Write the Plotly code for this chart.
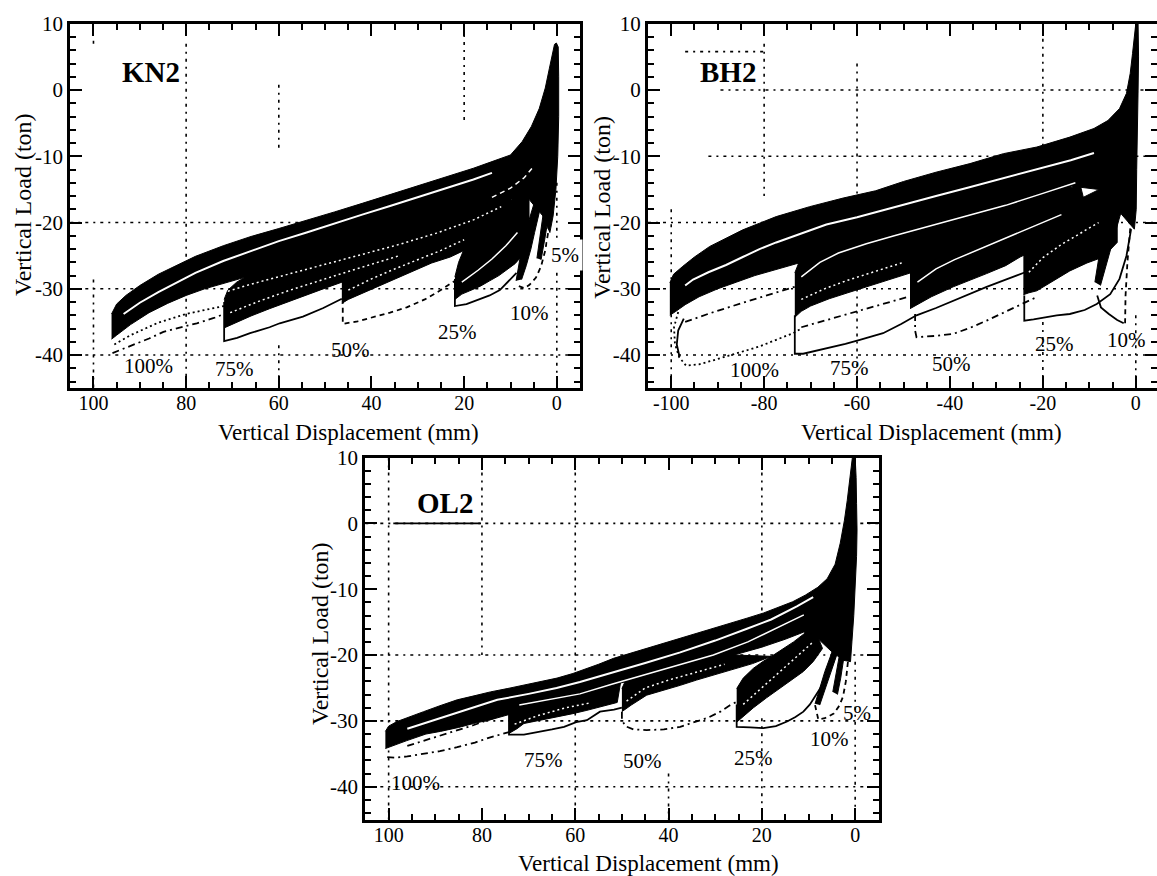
import plotly.graph_objects as go

FONT = "Liberation Serif"
W, H = 1157, 876

# ===================== KN2 (top-left) =====================
KN2_G100_TOP = [(96.1,-33.8),(95.0,-32.3),(93.0,-31.0),(90.0,-29.5),(86.0,-27.8),(82.0,-26.4),(78.0,-25.1),(72.0,-23.5),(66.0,-22.1),(60.0,-20.9),(54.0,-19.7),(48.0,-18.4),(42.0,-17.1),(36.0,-15.8),(30.0,-14.5),(24.0,-13.2),(18.0,-11.8),(14.0,-10.8),(10.0,-9.8),(7.5,-7.8),(5.5,-5.5),(3.8,-2.8),(2.5,0.3),(1.6,3.3),(1.0,5.5),(0.5,6.9),(0.1,7.1)]
KN2_G100_EDGE = [(-0.3,6.5),(-0.4,2.0),(-0.4,-4.0),(-0.2,-10.0),(0.2,-15.0),(0.8,-19.0),(1.5,-21.5)]
KN2_G100_BOT = [(96.1,-37.6),(95.0,-37.0),(92.0,-35.4),(88.0,-33.6),(84.0,-32.2),(80.0,-31.0),(76.0,-30.0),(72.0,-29.2),(66.0,-28.0),(60.0,-26.9),(54.0,-25.8),(48.0,-24.6),(40.0,-23.0),(32.0,-21.5),(24.0,-19.8),(16.0,-17.8),(10.0,-16.5),(6.0,-16.5),(3.0,-19.0),(1.5,-21.5)]
KN2_G75_TOP = [(71.8,-31.6),(71.0,-30.2),(69.1,-29.0),(66.0,-27.7),(62.0,-26.4),(58.0,-25.3),(54.0,-24.3),(48.0,-23.0),(40.0,-21.5),(30.0,-19.5),(20.0,-17.5),(10.0,-15.5)]
KN2_G75_BOT = [(71.8,-35.9),(70.0,-35.3),(66.0,-34.1),(62.0,-33.0),(58.0,-31.9),(54.0,-30.9),(50.0,-29.9),(44.0,-28.4),(38.0,-27.2),(32.0,-25.9),(26.0,-24.5),(20.0,-22.8),(14.0,-20.8),(10.0,-19.0)]
KN2_G50_TOP = [(46.4,-28.7),(45.5,-27.3),(43.2,-26.0),(40.0,-25.0),(36.0,-24.1),(30.0,-22.6),(25.0,-21.4),(20.0,-20.2),(14.0,-18.6),(10.0,-17.2)]
KN2_G50_BOT = [(46.4,-32.2),(45.0,-31.6),(42.0,-30.6),(39.0,-29.7),(35.0,-28.5),(31.0,-27.3),(27.0,-26.1),(23.0,-25.2),(20.0,-24.2),(16.0,-23.0),(12.0,-21.5),(10.0,-20.3)]
KN2_G25_TOP = [(22.0,-28.2),(21.2,-26.0),(20.2,-24.3),(18.8,-22.6),(17.4,-21.3),(15.5,-20.0),(13.0,-18.6),(10.9,-17.4),(8.0,-15.5),(6.0,-14.0)]
KN2_G25_BOT = [(22.0,-31.6),(20.5,-30.8),(18.8,-30.3),(16.5,-29.6),(14.5,-28.8),(12.5,-28.0),(10.9,-27.2),(9.0,-26.2),(7.5,-25.0),(6.0,-23.5)]
KN2_G10 = [(8.8,-28.8),(8.2,-26.5),(7.6,-24.0),(6.6,-21.0),(5.3,-18.0),(4.0,-15.0),(2.6,-15.5),(3.8,-18.5),(4.8,-21.5),(5.6,-24.0),(6.6,-26.5),(7.6,-28.6)]
KN2_G5 = [(4.3,-25.4),(3.7,-22.5),(3.0,-19.0),(2.3,-15.5),(1.3,-16.0),(1.9,-19.5),(2.6,-22.5),(3.4,-25.6)]

KN2_L100A = [(95.9,-39.7),(94.0,-39.2),(92.1,-38.7),(88.0,-37.5),(84.9,-36.5),(80.0,-35.6),(77.7,-35.2),(74.0,-34.4),(71.8,-33.8)]
KN2_L100B = [(95.5,-38.4),(92.0,-37.0),(86.0,-35.1),(80.0,-33.8),(74.0,-32.9),(71.8,-32.6)]
KN2_L75 = [(71.8,-32.0),(71.8,-37.9),(69.0,-37.4),(66.2,-36.7),(62.0,-35.8),(59.8,-35.2),(54.8,-34.2),(50.4,-32.9),(46.4,-31.5)]
KN2_L50 = [(46.2,-31.5),(46.2,-35.3),(43.0,-34.9),(39.6,-34.3),(36.0,-33.6),(32.4,-32.8),(28.5,-31.6),(25.3,-30.3),(21.8,-28.7)]
KN2_L25 = [(22.0,-28.5),(22.0,-32.6),(19.5,-32.3),(17.4,-31.8),(14.5,-31.0),(12.3,-30.2),(10.2,-28.7),(8.7,-27.6)]
KN2_L10 = [(8.2,-29.6),(7.0,-29.9),(5.9,-29.4),(4.5,-28.3),(3.4,-26.6),(2.5,-24.2),(1.9,-21.6),(1.5,-19.0),(1.2,-16.6)]

KN2_W1 = [(93.5,-33.8),(90.0,-32.1),(86.0,-30.5),(82.0,-29.0),(78.0,-27.6),(72.0,-25.8),(66.0,-24.3),(60.0,-22.8),(54.0,-21.5),(48.0,-20.1),(42.0,-18.8),(36.0,-17.5),(30.0,-16.2),(24.0,-14.9),(18.0,-13.5),(14.0,-12.5)]
KN2_W2 = [(92.0,-36.2),(86.0,-34.1),(80.0,-32.4),(74.0,-31.0),(66.0,-29.3),(58.0,-27.8),(50.0,-26.3),(42.0,-24.8),(34.0,-23.3),(26.0,-21.6),(18.0,-19.6),(12.0,-17.6)]
KN2_W3 = [(70.5,-33.6),(64.0,-31.8),(58.0,-30.3),(52.0,-28.9),(46.0,-27.6),(40.0,-26.3),(34.0,-25.0)]
KN2_W4 = [(45.0,-30.2),(40.0,-28.5),(35.0,-27.0),(30.0,-25.6),(25.0,-24.2),(20.0,-22.6)]
KN2_W5 = [(20.5,-29.0),(17.0,-27.2),(14.0,-25.5),(11.0,-23.5),(8.5,-21.5)]
KN2_W6 = [(14.0,-16.2),(10.0,-14.8),(7.0,-13.2),(5.0,-11.5)]

KN2_PCT_TEXT = ["100%", "75%", "50%", "25%", "10%", "5%"]
KN2_PCT_X = [88.1, 69.6, 44.6, 21.5, 5.9, -1.7]
KN2_PCT_Y = [-41.7, -42.1, -39.3, -36.5, -33.7, -24.9]

KN2_GRID_V = [(100, 7.0, 8.0), (100, -28.6, -45), (80, 7, -45), (60, 0.8, -9.1), (60, -38.5, -45), (20, 9.5, -5), (0, -14, -45)]
KN2_GRID_H = [(-20, 105, 50), (-30, 105, -5), (-40, 105, -5)]

# ===================== BH2 (top-right) =====================
BH2_G100_TOP = [(-100.3,-29.1),(-99.5,-27.8),(-97.5,-26.6),(-95.0,-25.2),(-91.7,-23.6),(-88.0,-22.3),(-84.6,-21.1),(-81.0,-20.1),(-77.4,-19.1),(-70.2,-17.6),(-63.0,-16.3),(-56.0,-15.2),(-50.0,-13.8),(-43.0,-12.4),(-35.7,-11.1),(-28.5,-9.6),(-21.3,-8.6),(-14.2,-7.1),(-9.0,-5.8),(-6.0,-4.6),(-3.5,-2.8),(-2.0,-0.5),(-1.2,2.5),(-0.7,5.5),(-0.3,8.5),(0.0,10.0)]
BH2_G100_EDGE = [(0.5,10.0),(0.6,5.0),(0.5,0.0),(0.3,-6.0),(0.2,-12.0),(0.1,-18.0),(-0.3,-21.0)]
BH2_G100_BOT = [(-100.3,-34.0),(-99.0,-33.4),(-97.0,-32.4),(-94.0,-31.2),(-90.0,-30.0),(-86.0,-29.0),(-82.0,-28.0),(-78.0,-27.1),(-74.0,-26.4),(-68.0,-25.2),(-60.0,-23.6),(-52.0,-22.0),(-44.0,-20.5),(-36.0,-19.0),(-28.0,-17.4),(-20.0,-15.8),(-14.0,-14.5),(-8.0,-15.0),(-4.0,-18.0),(-0.3,-21.0)]
BH2_G75_TOP = [(-73.4,-27.6),(-72.5,-26.0),(-70.5,-24.8),(-67.0,-23.4),(-63.0,-22.3),(-58.0,-21.1),(-52.0,-19.9),(-45.0,-18.6),(-38.0,-17.2),(-30.0,-15.6),(-22.0,-14.0),(-14.0,-12.2)]
BH2_G75_BOT = [(-73.4,-34.3),(-72.0,-33.4),(-70.0,-32.6),(-66.0,-31.5),(-62.0,-30.6),(-58.0,-29.7),(-54.0,-28.8),(-50.0,-27.9),(-44.0,-26.6),(-38.0,-25.3),(-30.0,-23.6),(-22.0,-21.8),(-14.0,-19.8)]
BH2_G50_TOP = [(-48.6,-26.4),(-47.5,-24.5),(-45.5,-23.2),(-42.9,-22.2),(-39.0,-21.1),(-35.7,-20.2),(-32.0,-19.2),(-28.5,-18.2),(-24.0,-17.2),(-18.0,-15.8),(-12.0,-14.2)]
BH2_G50_BOT = [(-48.6,-33.0),(-47.0,-32.4),(-44.0,-31.2),(-39.3,-29.7),(-35.0,-28.5),(-32.1,-27.7),(-28.0,-26.5),(-24.9,-25.2),(-20.0,-23.6),(-15.0,-21.8),(-10.0,-19.8)]
BH2_G25_TOP = [(-24.2,-24.2),(-23.2,-22.3),(-21.3,-20.4),(-18.0,-18.8),(-14.2,-17.2),(-10.5,-15.9),(-7.0,-14.7),(-4.0,-13.2)]
BH2_G25_BOT = [(-24.2,-30.9),(-23.0,-30.6),(-21.3,-30.3),(-17.5,-28.7),(-14.2,-27.3),(-10.5,-26.1),(-7.0,-25.2),(-4.0,-23.0)]
BH2_G10 = [(-8.8,-29.0),(-8.0,-25.5),(-6.8,-22.0),(-5.3,-18.5),(-3.8,-15.5),(-2.2,-16.0),(-3.6,-19.5),(-5.0,-23.0),(-6.4,-26.5),(-7.6,-29.5)]

BH2_L100A = [(-98.5,-33.5),(-99.4,-35.8),(-99.2,-38.3),(-98.3,-40.3),(-96.8,-41.6),(-94.0,-41.4),(-91.0,-40.8),(-88.2,-40.2),(-84.5,-39.4),(-81.0,-38.7),(-77.4,-37.7),(-73.8,-36.7),(-72.0,-36.0)]
BH2_L100B = [(-97.3,-34.5),(-98.5,-36.3),(-98.8,-38.4),(-98.2,-40.3)]
BH2_L100C = [(-97.0,-35.0),(-91.7,-33.7),(-85.0,-32.2),(-79.0,-30.9),(-73.4,-29.7)]
BH2_L75 = [(-73.4,-34.0),(-73.4,-39.8),(-71.6,-39.8),(-68.5,-39.3),(-65.9,-38.9),(-62.5,-38.3),(-59.4,-37.7),(-54.4,-36.7),(-50.5,-35.3),(-47.2,-34.0),(-43.0,-32.9),(-39.3,-31.8),(-35.5,-30.7),(-32.1,-29.7),(-28.0,-28.6),(-23.8,-27.5)]
BH2_L75B = [(-72.0,-35.8),(-66.0,-34.6),(-60.0,-33.4),(-54.4,-32.2),(-49.0,-31.2)]
BH2_L50 = [(-47.5,-33.8),(-47.5,-36.3),(-47.2,-37.3),(-43.0,-37.1),(-39.3,-36.8),(-35.7,-35.9),(-32.1,-34.8),(-28.5,-33.6),(-24.9,-32.4),(-21.5,-31.3)]
BH2_L25 = [(-24.0,-31.0),(-24.0,-34.8),(-22.0,-34.6),(-19.9,-34.3),(-17.0,-34.0),(-14.2,-33.8),(-11.0,-33.2),(-8.4,-32.3),(-5.5,-30.8),(-3.5,-28.5),(-2.0,-25.0),(-1.0,-21.0)]
BH2_L10A = [(-8.3,-31.0),(-7.5,-32.8),(-5.8,-33.8),(-4.0,-34.7),(-2.6,-35.2)]
BH2_L10B = [(-2.3,-35.2),(-2.2,-31.0),(-1.8,-26.0),(-1.2,-21.0),(-0.6,-16.0)]

BH2_W1 = [(-97.0,-29.5),(-95.3,-28.6),(-92.0,-27.5),(-88.2,-26.4),(-84.6,-25.2),(-81.0,-24.0),(-77.4,-23.0),(-73.8,-22.1),(-70.2,-21.2),(-66.6,-20.3),(-60.0,-19.2),(-55.9,-18.4),(-50.0,-17.3),(-43.0,-16.0),(-36.0,-14.7),(-28.5,-13.3),(-21.0,-11.9),(-14.0,-10.6),(-9.0,-9.5)]
BH2_W2 = [(-95.0,-32.3),(-90.0,-31.2),(-84.6,-30.3),(-78.0,-28.9),(-74.5,-28.0)]
BH2_W3 = [(-72.0,-28.2),(-68.0,-26.0),(-64.0,-24.6),(-58.0,-23.2),(-52.0,-22.0),(-44.0,-20.5),(-36.0,-19.0),(-28.0,-17.4),(-20.0,-15.6),(-13.0,-14.0)]
BH2_W4 = [(-72.0,-31.6),(-67.0,-30.0),(-62.0,-28.7),(-56.0,-27.4),(-50.0,-26.0)]
BH2_W5 = [(-47.0,-29.0),(-43.0,-27.0),(-39.0,-25.6),(-34.0,-24.1),(-28.0,-22.4),(-22.0,-20.6),(-16.0,-18.8)]
BH2_W6 = [(-23.0,-27.5),(-20.0,-25.3),(-16.0,-23.3),(-12.0,-21.6),(-8.0,-20.0)]

BH2_PCT_TEXT = ["100%", "75%", "50%", "25%", "10%"]
BH2_PCT_X = [-82.0, -61.7, -39.6, -17.6, -2.1]
BH2_PCT_Y = [-42.2, -42.0, -41.3, -38.3, -37.7]

BH2_GRID_V = [(-100, -18, -45), (-80, 7, -16), (-60, 4, -45), (-20, 10, -9), (-20, -35, -45), (0, -34, -45)]
BH2_GRID_H = [(5.8, -97, -80), (0, -89.4, 5), (-10, -92, 5), (-20, -105, 5), (-30, -105, 5), (-40, -105, 5)]

# ===================== OL2 (bottom) =====================
OL2_G100_TOP = [(100.7,-31.6),(100.0,-30.8),(98.2,-30.1),(95.0,-29.2),(92.5,-28.6),(89.0,-27.7),(85.3,-26.8),(81.7,-26.2),(78.2,-25.6),(74.6,-25.1),(71.0,-24.6),(67.5,-24.1),(63.9,-23.5),(60.5,-22.8),(57.5,-22.1),(55.0,-21.4),(51.8,-20.5),(48.0,-19.7),(44.7,-19.0),(41.0,-18.2),(37.5,-17.5),(34.0,-16.7),(30.4,-15.9),(26.8,-15.2),(23.2,-14.4),(19.6,-13.6),(16.1,-12.7),(13.4,-11.9),(10.7,-10.9),(8.0,-9.7),(6.0,-8.4),(4.3,-6.2),(3.2,-3.0),(2.3,0.5),(1.7,3.5),(1.2,6.5),(0.8,9.0),(0.6,10.0)]
OL2_G100_EDGE = [(0.0,10.0),(-0.2,7.0),(-0.3,3.0),(-0.4,-1.0),(-0.3,-5.0),(0.0,-10.0),(0.3,-14.0),(0.7,-18.0),(1.0,-21.0)]
OL2_G100_BOT = [(100.7,-34.2),(99.0,-33.8),(96.1,-33.0),(92.0,-32.0),(88.9,-31.6),(85.0,-31.0),(81.8,-30.4),(78.0,-29.8),(74.6,-29.1),(70.0,-28.2),(65.0,-27.2),(60.0,-26.2),(55.0,-25.2),(50.0,-24.2),(44.0,-23.2),(38.0,-22.1),(32.0,-21.0),(26.0,-20.0),(20.0,-18.8),(15.0,-17.6),(11.0,-16.5),(8.0,-17.5),(5.0,-19.5),(2.5,-20.8),(1.0,-21.0)]
OL2_G75_TOP = [(74.2,-28.1),(72.5,-27.3),(69.6,-26.3),(66.5,-25.6),(63.9,-25.1),(60.5,-24.6),(57.5,-24.2),(54.0,-23.6),(50.0,-23.0)]
OL2_G75_BOT = [(74.2,-31.9),(72.5,-31.2),(71.0,-30.4),(67.5,-29.9),(63.9,-29.4),(60.5,-28.9),(57.5,-28.4),(54.5,-27.9),(51.0,-27.2)]
OL2_G50_TOP = [(50.0,-25.1),(49.0,-23.5),(48.2,-22.3),(46.0,-21.2),(44.0,-20.4),(41.0,-19.6)]
OL2_G50_BOT = [(50.0,-28.6),(48.0,-27.6),(44.7,-26.1),(41.0,-25.3),(37.5,-24.6),(34.0,-23.8),(30.4,-23.0),(27.8,-22.5),(25.4,-22.0),(22.0,-21.3),(18.0,-20.2)]
OL2_G25_TOP = [(25.4,-25.1),(24.0,-23.5),(21.8,-22.0),(19.6,-20.9),(17.5,-20.0),(15.3,-19.0),(13.2,-18.0),(11.0,-16.8),(9.0,-15.5)]
OL2_G25_BOT = [(25.4,-30.2),(23.5,-29.0),(21.8,-28.0),(19.0,-26.5),(16.1,-25.1),(13.5,-23.7),(11.1,-22.5),(9.0,-21.0),(7.0,-19.0)]
OL2_G10 = [(8.6,-27.4),(7.6,-25.0),(6.5,-22.5),(5.2,-20.0),(4.0,-17.5),(3.0,-15.0),(2.0,-15.5),(3.0,-18.0),(4.2,-20.5),(5.4,-23.0),(6.6,-25.5),(7.6,-27.6)]
OL2_G5 = [(4.8,-25.6),(4.1,-23.0),(3.3,-20.0),(2.6,-17.0),(2.0,-14.0),(1.2,-14.5),(1.8,-17.5),(2.4,-20.5),(3.1,-23.5),(3.8,-26.0)]

OL2_L100A = [(100.3,-35.5),(98.5,-35.6),(96.0,-35.4),(92.5,-35.0),(89.0,-34.6),(85.3,-34.0),(81.5,-33.3),(78.2,-32.5),(76.0,-32.0),(74.2,-31.7)]
OL2_L100B = [(96.0,-33.8),(89.6,-32.4),(82.0,-30.7),(75.3,-29.0)]
OL2_L75 = [(74.2,-28.5),(74.2,-32.1),(71.0,-32.1),(67.5,-31.7),(65.0,-31.3),(62.4,-30.9),(59.8,-30.2),(57.5,-29.9),(54.7,-28.6),(51.7,-28.3),(50.0,-28.0)]
OL2_L50 = [(50.0,-28.6),(50.0,-29.8),(49.3,-30.8),(47.5,-31.3),(44.7,-31.4),(41.0,-31.3),(37.5,-30.9),(33.9,-30.1),(31.5,-29.5),(28.9,-28.6),(27.0,-27.7),(25.4,-27.1)]
OL2_L25 = [(25.4,-27.5),(25.4,-30.9),(22.5,-31.0),(19.7,-31.1),(17.0,-30.8),(14.6,-30.1),(12.8,-29.4),(11.1,-28.6),(9.7,-27.5),(8.5,-26.2),(7.0,-24.5)]
OL2_L10 = [(8.6,-27.6),(7.9,-29.8),(6.5,-29.6),(4.6,-28.9),(3.4,-27.7),(2.6,-26.3),(2.0,-24.0),(1.7,-22.3),(1.4,-20.0),(1.2,-18.0)]

OL2_W1 = [(96.0,-31.2),(90.0,-29.8),(84.0,-28.5),(80.0,-27.5),(76.7,-26.8),(70.0,-25.9),(64.0,-25.0),(59.0,-24.1),(55.0,-23.3),(51.8,-22.6),(45.0,-21.2),(37.5,-19.6),(30.0,-17.8),(23.2,-16.0),(18.0,-14.6),(12.5,-12.6),(9.0,-11.2)]
OL2_W2 = [(72.0,-27.6),(66.0,-26.8),(59.0,-25.9),(52.0,-24.4),(44.7,-22.9),(37.0,-21.4),(30.4,-20.0),(23.0,-18.0),(16.1,-15.6),(11.0,-13.9)]
OL2_W3 = [(24.0,-27.5),(20.0,-25.0),(16.0,-22.5),(12.0,-20.0),(9.0,-18.0)]
OL2_W4 = [(73.0,-30.5),(68.0,-29.2),(62.0,-28.0),(57.0,-27.3)]
OL2_W5 = [(49.0,-27.0),(45.0,-25.0),(40.0,-23.8),(34.0,-22.6),(28.0,-21.4)]

OL2_PCT_TEXT = ["100%", "75%", "50%", "25%", "10%", "5%"]
OL2_PCT_X = [94.2, 66.8, 45.5, 21.8, 5.4, -0.3]
OL2_PCT_Y = [-39.5, -36.0, -36.1, -35.6, -32.7, -28.8]

OL2_GRID_V = [(100, 10, -45), (80, 10, -20), (60, 10, -45), (40, -38, -45), (20, 10, -13.4), (20, -29.6, -45), (0, -21, -45)]
OL2_GRID_H = [(0, 105, -5), (-20, 105, -5), (-30, 105, -5), (-40, 105, -5)]
OL2_RULE = [(99.0, 0.0), (80.2, 0.0)]

# ===================== shared axis labels =====================
X_TICKS_POS = [100, 80, 60, 40, 20, 0]
X_TICKS_NEG = [-100, -80, -60, -40, -20, 0]
Y_TICKS = [10, 0, -10, -20, -30, -40]
PANEL_NAMES = ["KN2", "BH2", "OL2"]
X_TITLE = "Vertical Displacement (mm)"
Y_TITLE = "Vertical Load (ton)"


def lbl(v):
    return str(v).replace("\u2212", "-")


fig = go.Figure()


def xy(pts):
    return [p[0] for p in pts], [p[1] for p in pts]


def add_poly(pts, ax):
    xs, ys = xy(pts)
    fig.add_trace(go.Scatter(x=xs, y=ys, mode="lines", fill="toself", fillcolor="black",
                             line=dict(color="black", width=1), xaxis=ax[0], yaxis=ax[1],
                             hoverinfo="skip", showlegend=False))


def add_line(pts, ax, color="black", width=1.5, dash="solid"):
    xs, ys = xy(pts)
    fig.add_trace(go.Scatter(x=xs, y=ys, mode="lines",
                             line=dict(color=color, width=width, dash=dash),
                             xaxis=ax[0], yaxis=ax[1], hoverinfo="skip", showlegend=False))


def band(top, bot, edge=()):
    return list(top) + list(edge) + list(bot)[::-1]


DASHDOT = "7px,4px,2px,4px"
DOTTED = "2px,3px"
DASHED = "5px,4px"
GRID_DASH = "3px,5px,2px,5px"

panels = [
    dict(ax=("x", "y"),
         polys=[band(KN2_G100_TOP, KN2_G100_BOT, KN2_G100_EDGE), band(KN2_G75_TOP, KN2_G75_BOT),
                band(KN2_G50_TOP, KN2_G50_BOT), band(KN2_G25_TOP, KN2_G25_BOT), KN2_G10, KN2_G5],
         whites=[(KN2_W1, 2.0, "solid"), (KN2_W2, 1.5, DOTTED), (KN2_W3, 1.5, DOTTED),
                 (KN2_W4, 1.5, DOTTED), (KN2_W5, 1.5, "solid"), (KN2_W6, 1.5, DASHED)],
         lines=[(KN2_L100A, DASHDOT), (KN2_L100B, DOTTED), (KN2_L75, "solid"),
                (KN2_L50, DASHED), (KN2_L25, "solid"), (KN2_L10, DASHED)],
         gv=KN2_GRID_V, gh=KN2_GRID_H,
         pct=(KN2_PCT_TEXT, KN2_PCT_X, KN2_PCT_Y)),
    dict(ax=("x2", "y2"),
         polys=[band(BH2_G100_TOP, BH2_G100_BOT, BH2_G100_EDGE), band(BH2_G75_TOP, BH2_G75_BOT),
                band(BH2_G50_TOP, BH2_G50_BOT), band(BH2_G25_TOP, BH2_G25_BOT), BH2_G10],
         whites=[(BH2_W1, 2.0, "solid"), (BH2_W2, 1.5, DOTTED), (BH2_W3, 1.5, "solid"),
                 (BH2_W4, 1.5, DOTTED), (BH2_W5, 1.5, "solid"), (BH2_W6, 1.5, DOTTED)],
         lines=[(BH2_L100A, DOTTED), (BH2_L100B, "solid"), (BH2_L100C, DASHDOT),
                (BH2_L75, "solid"), (BH2_L75B, DASHDOT), (BH2_L50, DASHDOT),
                (BH2_L25, "solid"), (BH2_L10A, "solid"), (BH2_L10B, DASHED)],
         gv=BH2_GRID_V, gh=BH2_GRID_H,
         pct=(BH2_PCT_TEXT, BH2_PCT_X, BH2_PCT_Y)),
    dict(ax=("x3", "y3"),
         polys=[band(OL2_G100_TOP, OL2_G100_BOT, OL2_G100_EDGE), band(OL2_G75_TOP, OL2_G75_BOT),
                band(OL2_G50_TOP, OL2_G50_BOT), band(OL2_G25_TOP, OL2_G25_BOT), OL2_G10, OL2_G5],
         whites=[(OL2_W1, 2.0, "solid"), (OL2_W2, 1.5, "solid"), (OL2_W3, 1.5, DOTTED),
                 (OL2_W4, 1.5, DOTTED), (OL2_W5, 1.5, DOTTED)],
         lines=[(OL2_L100A, DASHDOT), (OL2_L100B, DASHDOT), (OL2_L75, "solid"),
                (OL2_L50, DASHDOT), (OL2_L25, "solid"), (OL2_L10, DASHED), (OL2_RULE, "solid")],
         gv=OL2_GRID_V, gh=OL2_GRID_H,
         pct=(OL2_PCT_TEXT, OL2_PCT_X, OL2_PCT_Y)),
]

annotations = []
shapes = []
for p in panels:
    ax = p["ax"]
    for poly in p["polys"]:
        add_poly(poly, ax)
    for pts, wdt, dsh in p["whites"]:
        add_line(pts, ax, color="white", width=wdt, dash=dsh)
    for pts, dsh in p["lines"]:
        add_line(pts, ax, color="black", width=1.8, dash=dsh)
    for xv, y0, y1 in p["gv"]:
        shapes.append(dict(type="line", xref=ax[0], yref=ax[1], x0=xv, x1=xv, y0=y0, y1=y1,
                           line=dict(color="black", width=1.6, dash=GRID_DASH), layer="below"))
    for yv, x0, x1 in p["gh"]:
        shapes.append(dict(type="line", xref=ax[0], yref=ax[1], x0=x0, x1=x1, y0=yv, y1=yv,
                           line=dict(color="black", width=1.6, dash=GRID_DASH), layer="below"))
    txts, pxs, pys = p["pct"]
    for t, tx, ty in zip(txts, pxs, pys):
        annotations.append(dict(text=t, x=tx, y=ty, xref=ax[0], yref=ax[1], showarrow=False,
                                font=dict(family=FONT, size=21, color="black"),
                                bgcolor="white" if t == "5%" and ax[0] == "x" else None,
                                borderpad=3))

# panel names
for name, ax, (nx, ny) in zip(PANEL_NAMES, [("x", "y"), ("x2", "y2"), ("x3", "y3")],
                               [(87.5, 2.8), (-87.8, 2.8), (87.9, 3.1)]):
    annotations.append(dict(text="<b>%s</b>" % name, x=nx, y=ny, xref=ax[0], yref=ax[1],
                            showarrow=False, font=dict(family=FONT, size=29, color="black")))

# axis titles (paper coordinates)
for (px, py) in [(348, 432), (931, 432), (648, 863)]:
    annotations.append(dict(text=X_TITLE, x=px / W, y=1 - py / H, xref="paper", yref="paper",
                            showarrow=False, xanchor="center", yanchor="middle",
                            font=dict(family=FONT, size=23, color="black")))
for (px, py) in [(23, 205), (601.7, 207), (320, 634)]:
    annotations.append(dict(text=Y_TITLE, x=px / W, y=1 - py / H, xref="paper", yref="paper",
                            showarrow=False, xanchor="center", yanchor="middle", textangle=-90,
                            font=dict(family=FONT, size=24, color="black")))


def xaxis_cfg(domain, rng, vals, anchor):
    return dict(domain=domain, range=rng, anchor=anchor,
                tickmode="array", tickvals=vals, ticktext=[lbl(v) for v in vals],
                ticks="inside", ticklen=12, tickwidth=2, tickcolor="black",
                minor=dict(tickmode="linear", tick0=0, dtick=5, ticks="inside", ticklen=6,
                           tickwidth=1.5, tickcolor="black", showgrid=False),
                showline=True, linewidth=3, linecolor="black", mirror="ticks",
                showgrid=False, zeroline=False, automargin=False,
                ticklabelstandoff=-5,
                tickfont=dict(family=FONT, size=20, color="black"))


def yaxis_cfg(domain, anchor):
    return dict(domain=domain, range=[-45, 10], anchor=anchor,
                tickmode="array", tickvals=Y_TICKS, ticktext=[lbl(v) for v in Y_TICKS],
                ticks="inside", ticklen=12, tickwidth=2, tickcolor="black",
                minor=dict(tickmode="linear", tick0=0, dtick=2, ticks="inside", ticklen=6,
                           tickwidth=1.5, tickcolor="black", showgrid=False),
                showline=True, linewidth=3, linecolor="black", mirror="ticks",
                showgrid=False, zeroline=False, automargin=False,
                ticklabelstandoff=0,
                tickfont=dict(family=FONT, size=21, color="black"))


TOP_Y = [1 - 388.2 / H, 1 - 23.8 / H]
BOT_Y = [1 - 819.6 / H, 1 - 457.6 / H]

fig.update_layout(
    width=W, height=H,
    margin=dict(l=0, r=0, t=0, b=0),
    paper_bgcolor="white", plot_bgcolor="white",
    showlegend=False,
    xaxis=xaxis_cfg([70.3 / W, 580 / W], [105, -5], X_TICKS_POS, "y"),
    yaxis=yaxis_cfg(TOP_Y, "x"),
    xaxis2=xaxis_cfg([648 / W, 1.0], [-105, 4.57], X_TICKS_NEG, "y2"),
    yaxis2=yaxis_cfg(TOP_Y, "x2"),
    xaxis3=xaxis_cfg([365.3 / W, 878.5 / W], [105, -5], X_TICKS_POS, "y3"),
    yaxis3=yaxis_cfg(BOT_Y, "x3"),
    annotations=annotations,
    shapes=shapes,
)

fig.write_html("out.html")
